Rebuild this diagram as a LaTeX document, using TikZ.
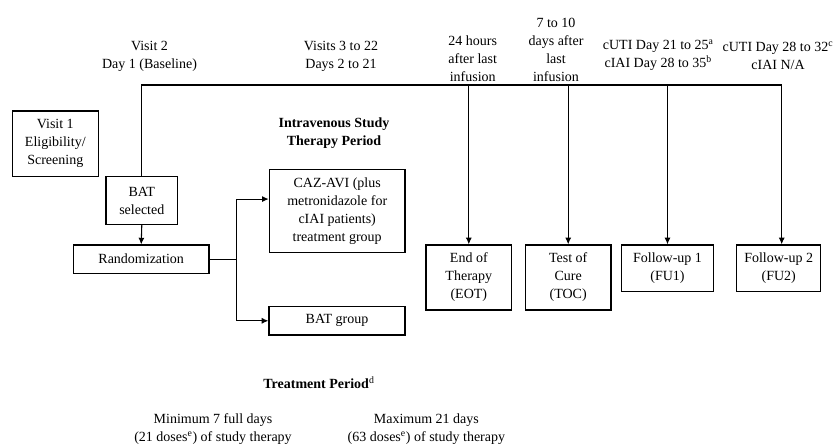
\documentclass[tikz,border=0pt]{standalone}
\usepackage{fontspec}
\setmainfont{Liberation Serif}
\usetikzlibrary{arrows.meta}
\tikzset{ box/.style = { rectangle % study box
        , draw
        , line width = 0.9pt
        , inner sep = 0pt
        , align = center
        , font = \fontsize{10.5}{13.5}\selectfont
        }
        , lbl/.style = { rectangle % visit label
        , inner sep = 0pt
        , align = center
        , font = \fontsize{10.5}{13.5}\selectfont
        }
        , head/.style = { rectangle % bold heading
        , inner sep = 0pt
        , align = center
        , font = \fontsize{10.5}{13.5}\selectfont\bfseries
        }
        }

\begin{document}
\begin{tikzpicture}[x=0.75pt, y=-0.75pt,
        line_style/.style={draw=black, line width=0.8pt},
        edge_style/.style={draw=black, line width=0.8pt, -{Latex[length=5pt,width=4.5pt]}}]
        \useasboundingbox (0,0) rectangle (835,446);

        \node [box, minimum width=64.5pt, minimum height=49.3pt](v1) at (55.3,143.8) {Visit 1\\Eligibility/\\Screening};
        \node [box, minimum width=53.8pt, minimum height=35.7pt](bat_sel) at (141.8,200.5) {BAT\\selected};
        \node [box, minimum width=101.8pt, minimum height=21.2pt](rand) at (141.2,259.2) {Randomization};
        \node [box, minimum width=101.8pt, minimum height=62.2pt](caz) at (337.2,210.8) {CAZ-AVI (plus\\metronidazole for\\cIAI patients)\\treatment group};
        \node [box, minimum width=102pt, minimum height=21.2pt](batg) at (337,320.8) {BAT group};
        \node [box, minimum width=64.3pt, minimum height=48.8pt](eot) at (468.8,277.5) {End of\\Therapy\\(EOT)};
        \node [box, minimum width=64.3pt, minimum height=48.8pt](toc) at (568.2,277.5) {Test of\\Cure\\(TOC)};
        \node [box, minimum width=68.7pt, minimum height=35pt](fu1) at (667.5,268.3) {Follow-up 1\\(FU1)};
        \node [box, minimum width=63pt, minimum height=35pt](fu2) at (778.7,268.3) {Follow-up 2\\(FU2)};

        \node [lbl](v2_lbl) at (149.5,56) {Visit 2\\Day 1 (Baseline)};
        \node [lbl](v3_lbl) at (341,56) {Visits 3 to 22\\Days 2 to 21};
        \node [lbl](eot_lbl) at (472.7,58.5) {24 hours\\after last\\infusion};
        \node [lbl](toc_lbl) at (556,49.5) {7 to 10\\days after\\last\\infusion};
        \node [lbl](fu1_lbl) at (658.3,55.5) {cUTI Day 21 to 25\textsuperscript{a}\\cIAI Day 28 to 35\textsuperscript{b}};
        \node [lbl](fu2_lbl) at (778,55.5) {cUTI Day 28 to 32\textsuperscript{c}\\cIAI N/A};
        \node [head](iv_lbl) at (334,133) {Intravenous Study\\Therapy Period};
        \node [head](treat_lbl) at (319,383) {Treatment Period\textsuperscript{\mdseries d}};
        \node [lbl](min_lbl) at (213,429.5) {Minimum 7 full days\\(21 doses\textsuperscript{e}) of study therapy};
        \node [lbl](max_lbl) at (426.4,429.5) {Maximum 21 days\\(63 doses\textsuperscript{e}) of study therapy};

        \coordinate (top_end) at (781.7,85);
        \coordinate (split) at (236.7,259.2);
        \coordinate (caz_in) at ([yshift=8.8pt]caz.west);

        \draw [line_style] (bat_sel.north) |- (top_end);
        \draw [edge_style] (bat_sel.south) -- (rand.north);
        \draw [line_style] (rand.east) -- (split);
        \draw [edge_style] (split) |- (caz_in);
        \draw [edge_style] (split) |- (batg.west);
        \draw [edge_style] (eot.north |- top_end) -- (eot.north);
        \draw [edge_style] (toc.north |- top_end) -- (toc.north);
        \draw [edge_style] (fu1.north |- top_end) -- (fu1.north);
        \draw [edge_style] (top_end) -- (top_end |- fu2.north);
\end{tikzpicture}
\end{document}
